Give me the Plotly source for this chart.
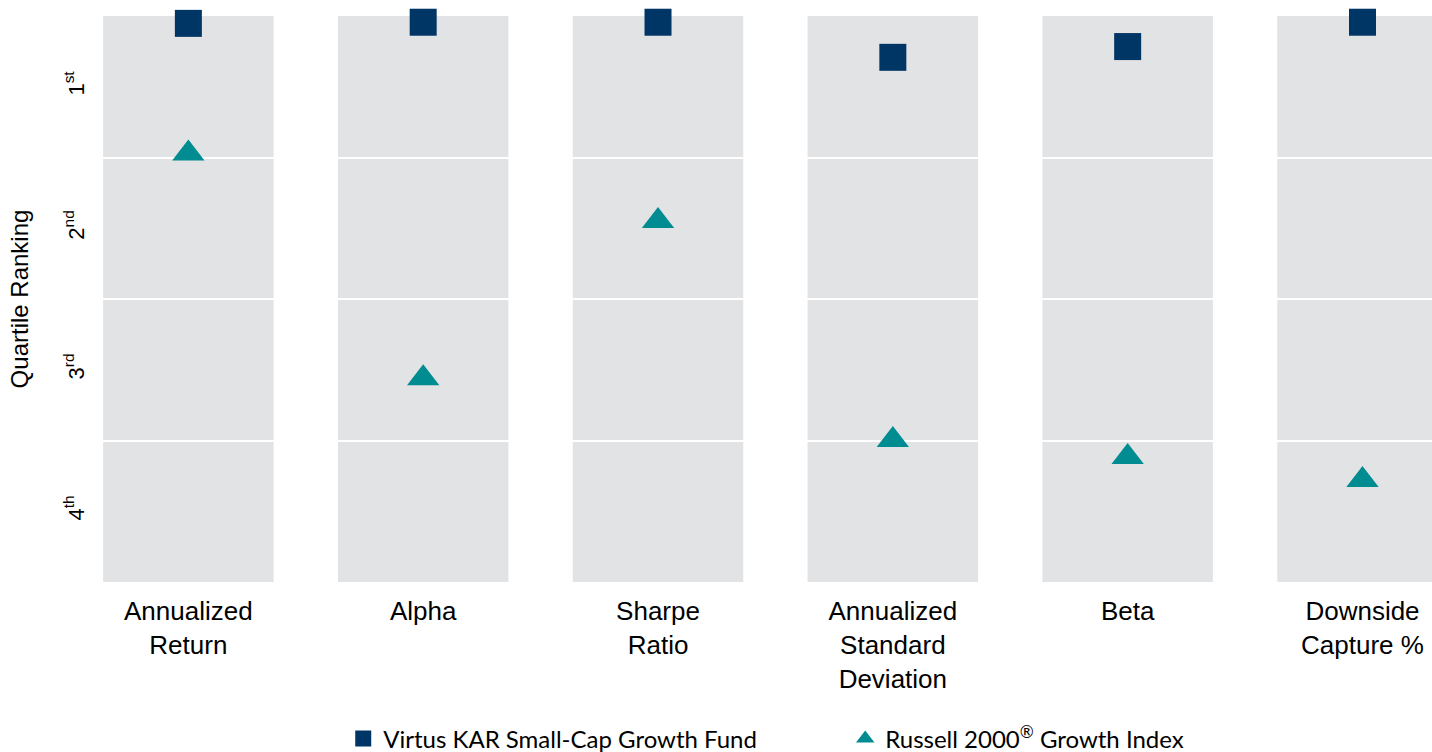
import plotly.graph_objects as go

categories = ["Annualized<br>Return", "Alpha", "Sharpe<br>Ratio",
              "Annualized<br>Standard<br>Deviation", "Beta", "Downside<br>Capture %"]
fund_name = "Virtus KAR Small-Cap Growth Fund"
index_name = "Russell 2000<sup>®</sup> Growth Index"
fund_pct = [1.3, 1.1, 1.1, 7.3, 5.4, 1.1]
index_pct = [24.3, 64.0, 36.2, 74.9, 77.9, 82.0]
quartile_labels = ["1<sup>st</sup>", "2<sup>nd</sup>", "3<sup>rd</sup>", "4<sup>th</sup>"]
quartile_centers = [12.5, 37.5, 62.5, 87.5]
quartile_bounds = [25, 50, 75]

NAVY = "#003666"
TEAL = "#008C90"
GREY = "#E2E3E5"
xs = list(range(len(categories)))
half_w = 0.363

fig = go.Figure()
fig.add_trace(go.Scatter(
    x=xs, y=fund_pct, mode="markers", name=fund_name,
    marker=dict(symbol="square", size=27, color=NAVY, line=dict(width=0)),
    cliponaxis=False))
fig.add_trace(go.Scatter(
    x=xs, y=index_pct, mode="markers", name=index_name,
    marker=dict(symbol="triangle-up", size=28, color=TEAL, line=dict(width=0)),
    cliponaxis=False))

for x in xs:
    fig.add_shape(type="rect", xref="x", yref="y", x0=x - half_w, x1=x + half_w,
                  y0=0, y1=100, fillcolor=GREY, line=dict(width=0), layer="below")

fig.update_layout(
    width=1432, height=770, autosize=False,
    paper_bgcolor="white", plot_bgcolor="white",
    margin=dict(l=101, r=0, t=16, b=188, pad=0),
    xaxis=dict(range=[-0.372, 5.296], tickvals=xs, ticktext=categories,
               showgrid=False, zeroline=False, showline=False, ticks="",
               automargin=False, ticklabelstandoff=11,
               tickfont=dict(family="Liberation Sans", size=26, color="#000000")),
    yaxis=dict(range=[100, 0], tickvals=quartile_centers, ticktext=quartile_labels,
               tickangle=-90, showgrid=False, zeroline=False, showline=False, ticks="",
               automargin=False, ticklabelstandoff=12,
               tickfont=dict(family="Liberation Sans", size=22, color="#000000"),
               minor=dict(tickvals=quartile_bounds, showgrid=True, gridcolor="white",
                          gridwidth=2, ticks=""),
               title=dict(text="Quartile Ranking", standoff=24,
                          font=dict(family="Liberation Sans", size=24, color="#000000"))),
    showlegend=True,
    legend=dict(orientation="h", x=0.182, xanchor="left", y=-0.2774, yanchor="middle",
                entrywidth=457, entrywidthmode="pixels",
                font=dict(family="Lato", size=24, color="#000000"),
                bgcolor="rgba(0,0,0,0)", borderwidth=0),
)

page_css = ("document.body.style.margin='0';"
            "document.body.style.overflow='hidden';"
            "document.documentElement.style.overflow='hidden';")
fig.write_html("out.html", post_script=page_css, config={"displayModeBar": False})
